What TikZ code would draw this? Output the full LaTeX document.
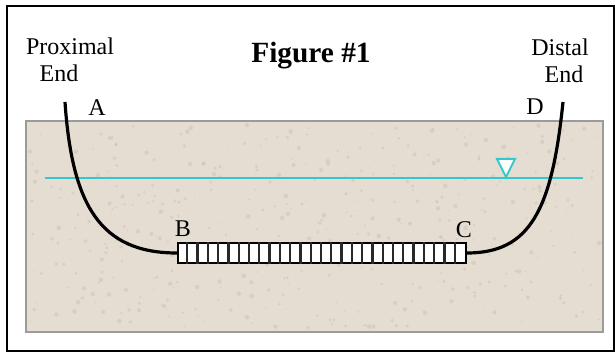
\documentclass[tikz,border=0pt]{standalone}
\usepackage{fontspec}
\setmainfont{Liberation Serif}
\usetikzlibrary{calc}
\begin{document}
\begin{tikzpicture}[x=0.75pt,y=-0.75pt,
  lbl/.style={inner sep=0pt,anchor=base,font=\fontsize{18}{20}\selectfont},
  pipe/.style={line width=2.4pt,black},
  water/.style={draw=watercyan,line width=1pt}]
\definecolor{soil}{RGB}{229,221,210}
\definecolor{soildark}{RGB}{200,190,176}
\definecolor{soilrim}{RGB}{155,155,155}
\definecolor{watercyan}{RGB}{51,200,204}
\definecolor{slot}{RGB}{40,40,40}
\useasboundingbox (0,0) rectangle (615,352);
% outer frame
\draw[line width=1.5pt] (7,6) rectangle (614,351);
% ground block
\draw[fill=soil,draw=soilrim,line width=1.5pt] (26,121) rectangle (603,332);
% speckled soil texture
\pgfmathsetseed{7}
\foreach \k in {1,...,420}{
  \pgfmathsetmacro{\px}{30+570*rnd}
  \pgfmathsetmacro{\py}{125+203*rnd}
  \pgfmathsetmacro{\pr}{0.6+1.8*rnd}
  \fill[soildark,opacity=0.45] (\px,\py) circle[radius=\pr];
}
% water table
\coordinate (wl) at (45,178);
\coordinate (wr) at (583,178);
\draw[water] (wl) -- (wr);
\draw[water,line width=1.5pt,fill=white] (497,159) -- (515,159) -- (506,177) -- cycle;
% well screen
\node[draw,line width=1.5pt,fill=white,minimum width=288*0.75pt,minimum height=20*0.75pt,inner sep=0pt] (scr) at (322,253) {};
\foreach \i in {1,...,27}{
  \draw[slot,line width=1.8pt] ($(scr.north west)+(\i*288/28,0)$) -- ($(scr.south west)+(\i*288/28,0)$);
}
% pipe ends
\coordinate (A0) at (65,102);
\coordinate (D0) at (563,102);
\draw[pipe] (A0) .. controls (72,205) and (100,253) .. (scr.west);
\draw[pipe] (D0) .. controls (552,210) and (530,253) .. (scr.east);
% labels
\node[lbl] (prox) at (70,55) {Proximal};
\node[lbl] (proxe) at (59,82) {End};
\node[lbl] (dist) at (560,56) {Distal};
\node[lbl] (diste) at (564,83) {End};
\node[lbl,font=\fontsize{22}{24}\selectfont\bfseries] (title) at (311,63) {Figure \#1};
\node[lbl] (la) at (97,116) {A};
\node[lbl] (ld) at (535,115) {D};
\node[lbl] (lb) at (183,237) {B};
\node[lbl] (lc) at (464,238) {C};
\end{tikzpicture}
\end{document}
